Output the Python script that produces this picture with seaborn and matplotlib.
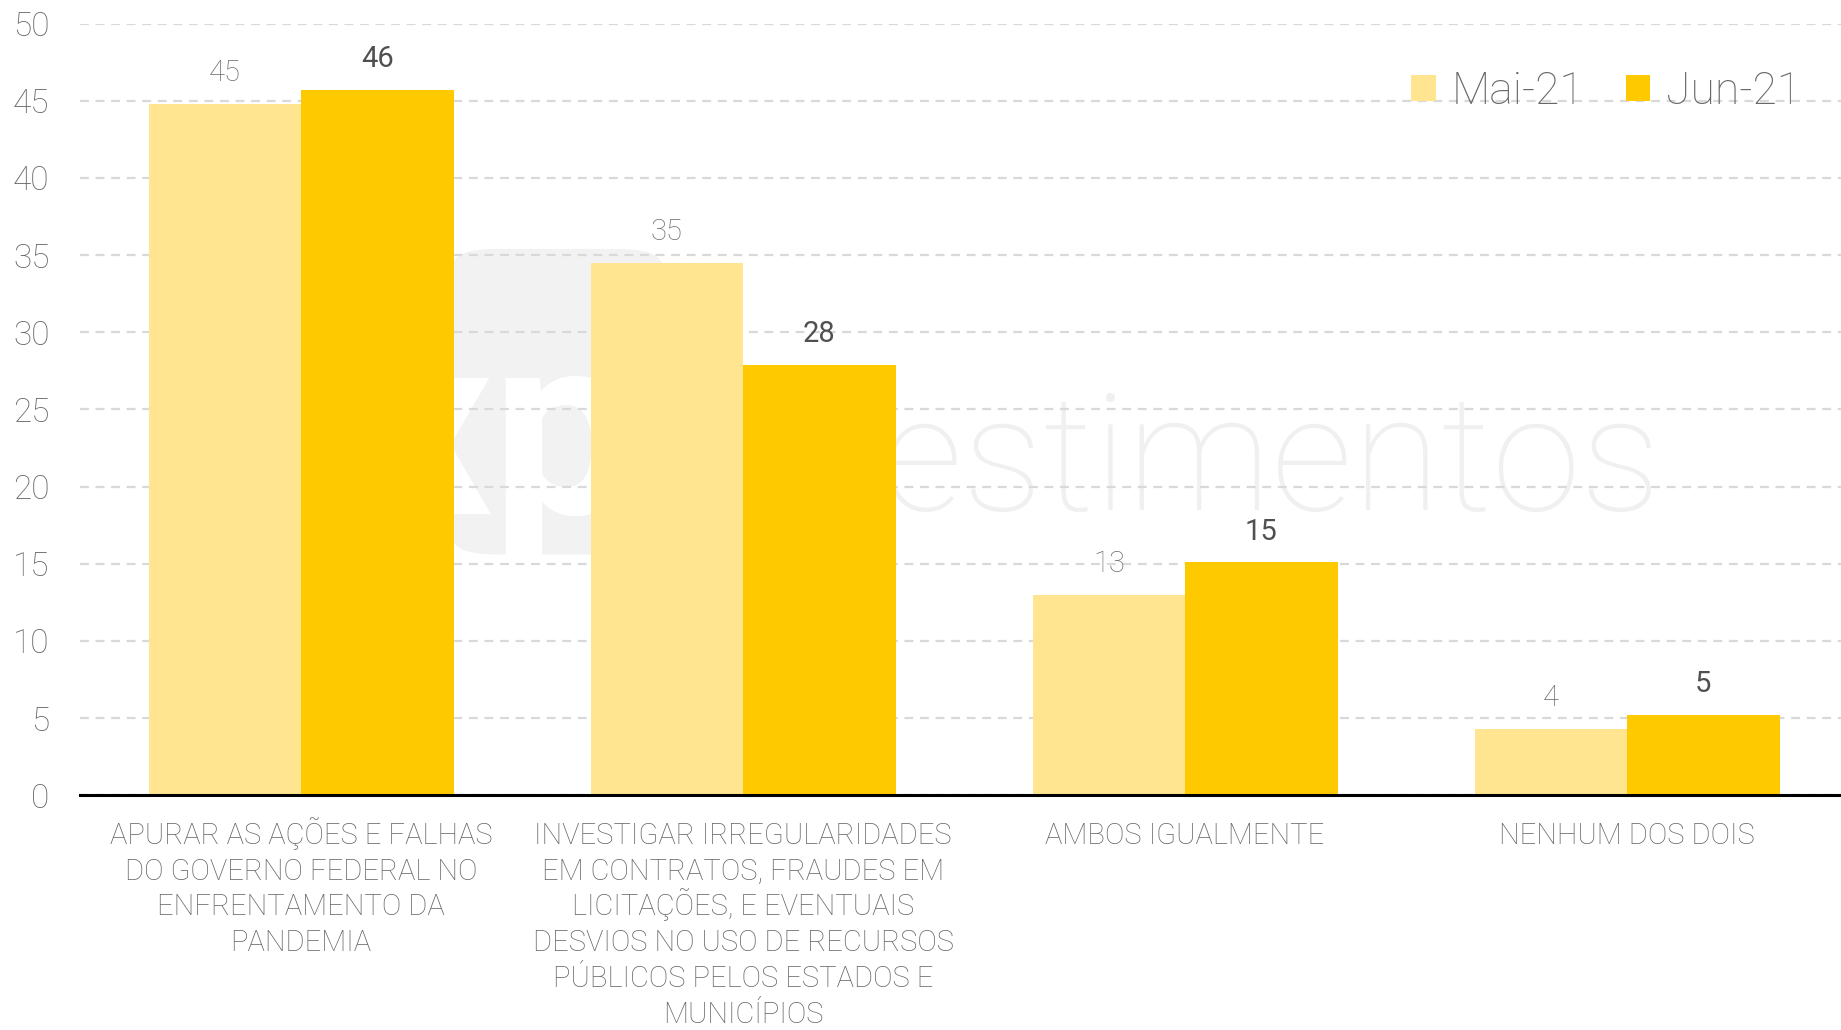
import pandas as pd
import matplotlib.pyplot as plt
import seaborn as sns
from matplotlib.patches import FancyBboxPatch

# Dados
categorias = [
    "APURAR AS AÇÕES E FALHAS\nDO GOVERNO FEDERAL NO\nENFRENTAMENTO DA\nPANDEMIA",
    "INVESTIGAR IRREGULARIDADES\nEM CONTRATOS, FRAUDES EM\nLICITAÇÕES, E EVENTUAIS\nDESVIOS NO USO DE RECURSOS\nPÚBLICOS PELOS ESTADOS E\nMUNICÍPIOS",
    "AMBOS IGUALMENTE",
    "NENHUM DOS DOIS",
]
periodos = ["Mai-21", "Jun-21"]
mai_21 = [44.8, 34.5, 13.0, 4.3]
jun_21 = [45.7, 27.9, 15.1, 5.2]
rotulos_mai = ["45", "35", "13", "4"]
rotulos_jun = ["46", "28", "15", "5"]
yticks = [0, 5, 10, 15, 20, 25, 30, 35, 40, 45, 50]

cores = {"Mai-21": "#FFE58F", "Jun-21": "#FFC900"}
cinza = "#686868"

df = pd.DataFrame({
    "categoria": categorias * 2,
    "periodo": [periodos[0]] * 4 + [periodos[1]] * 4,
    "valor": mai_21 + jun_21,
})

sns.set_style("white")
plt.rcParams["font.family"] = ["Roboto", "DejaVu Sans"]
plt.rcParams["font.weight"] = "light"

fig = plt.figure(figsize=(18.41, 10.30), dpi=100)
ax = fig.add_axes([0.0435, 0.228, 0.9565, 0.749])

# Marca d'água (atrás das barras)
ax.add_patch(FancyBboxPatch((0.211, 0.312), 0.12, 0.396, boxstyle="round,pad=0,rounding_size=0.025",
                            transform=ax.transAxes, facecolor="#F2F2F2", edgecolor="none", zorder=0))
ax.text(0.238, 0.365, "xp", transform=ax.transAxes, fontsize=185, color="white",
        fontweight="bold", ha="center", va="baseline", zorder=0.5)
ax.text(0.898, 0.37, "investimentos", transform=ax.transAxes, fontsize=116, color="#F0F0F0",
        fontweight="ultralight", ha="right", va="baseline", zorder=0.5)

sns.barplot(data=df, x="categoria", y="valor", hue="periodo", palette=cores,
            width=0.69, gap=0, saturation=1, linewidth=0, ax=ax, zorder=2)

# Rótulos de valor
for cont, rot, cor, peso in zip(ax.containers, [rotulos_mai, rotulos_jun],
                                ["#6E6E6E", "#505050"], ["light", "normal"]):
    ax.bar_label(cont, labels=rot, padding=12, fontsize=21, color=cor, fontweight=peso)

ax.set_ylim(0, 50)
ax.set_xlim(-0.5, 3.484)
ax.set_yticks(yticks)
ax.yaxis.grid(True, linestyle=(0, (4, 3)), color="#D9D9D9", linewidth=1.6, zorder=0)
ax.set_axisbelow(True)
ax.tick_params(axis="y", length=0, pad=22, labelsize=24, labelcolor=cinza)
ax.tick_params(axis="x", length=0)

# Rótulos das categorias, linha a linha para espaçamento uniforme
ax.set_xticks(range(len(categorias)))
ax.set_xticklabels([""] * len(categorias))
for i, cat in enumerate(categorias):
    for j, linha in enumerate(cat.split("\n")):
        ax.annotate(linha, xy=(i, 0), xycoords=("data", "axes fraction"),
                    xytext=(0, -35 - j * 25.8), textcoords="offset points",
                    ha="center", va="baseline", fontsize=21, color=cinza)

ax.set_xlabel("")
ax.set_ylabel("")
for s in ["top", "right", "left"]:
    ax.spines[s].set_visible(False)
ax.spines["bottom"].set_color("black")
ax.spines["bottom"].set_linewidth(2.2)
ax.spines["bottom"].set_zorder(3)

leg = ax.legend(loc="center right", bbox_to_anchor=(1.0, 0.912), ncol=2, frameon=False,
                fontsize=32, handlelength=0.55, handleheight=0.55, handletextpad=0.35,
                columnspacing=0.95)
for t in leg.get_texts():
    t.set_color(cinza)

fig.savefig("out.png", dpi=100)
